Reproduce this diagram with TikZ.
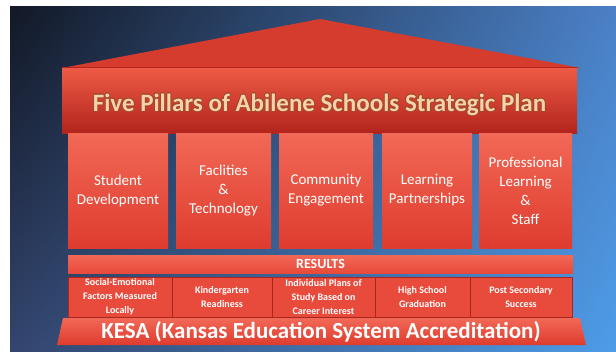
\documentclass[tikz,border=0pt]{standalone}
\usepackage{fontspec}
\setmainfont{Carlito}
\usepackage{contour}
\contourlength{0.7pt}
\contournumber{16}
\usetikzlibrary{shadings}

\definecolor{bgUL}{HTML}{121826}
\definecolor{bgUR}{HTML}{4B80C6}
\definecolor{bgLL}{HTML}{33456E}
\definecolor{bgLR}{HTML}{4E9CE8}
\definecolor{roofedge}{HTML}{D63C2E}
\definecolor{roofmid}{HTML}{F47A63}
\definecolor{bandtop}{HTML}{EE5A45}
\definecolor{bandbot}{HTML}{B2241C}
\definecolor{pillartop}{HTML}{F26856}
\definecolor{pillarbot}{HTML}{DE3C2E}
\definecolor{boxfill}{HTML}{E84A3B}
\definecolor{boxedge}{HTML}{A8261E}
\definecolor{titlefill}{HTML}{F3D2AC}
\definecolor{titleedge}{HTML}{A24A28}

\tikzset{
  pillar/.style={top color=pillartop,bottom color=pillarbot,minimum height=115bp,inner sep=0pt,align=center,text=white,font=\fontsize{15bp}{19bp}\selectfont},
  result/.style={fill=boxfill,draw=boxedge,line width=0.8bp,minimum height=40bp,inner sep=0pt,align=center,text=white,font=\bfseries\fontsize{10bp}{14bp}\selectfont},
}

\begin{document}
\begin{tikzpicture}
\useasboundingbox (0bp,0bp) rectangle (616bp,-352bp);
\fill[white] (0bp,0bp) rectangle (616bp,-352bp);
\shade[upper left=bgUL,upper right=bgUR,lower left=bgLL,lower right=bgLR] (10bp,-6bp) rectangle (616bp,-352bp);

% roof and entablature
\shade[left color=roofedge,middle color=roofmid,right color=roofedge] (62bp,-68bp) -- (320bp,-19bp) -- (581bp,-68bp) -- cycle;
\node (band) at (319.5bp,-100.5bp)[top color=bandtop,bottom color=bandbot,minimum width=515bp,minimum height=65bp,inner sep=0pt] {};
\draw [line width=1.2bp,bandbot] (band.north west) to (band.north east);
\node (title) at (319.5bp,-105bp)[text=titlefill,font=\bfseries\fontsize{25bp}{28bp}\selectfont] {\contour{titleedge}{Five Pillars of Abilene Schools Strategic Plan}};

% pillars
\node (P1) at (118bp,-190.5bp)[pillar,minimum width=100bp] {Student\\Development};
\node (P2) at (223.5bp,-190.5bp)[pillar,minimum width=95bp] {Faclities\\\&\\Technology};
\node (P3) at (326bp,-190.5bp)[pillar,minimum width=94bp] {Community\\Engagement};
\node (P4) at (427bp,-190.5bp)[pillar,minimum width=90bp] {Learning\\Partnerships};
\node (P5) at (525.5bp,-190.5bp)[pillar,minimum width=93bp] {Professional\\Learning\\\&\\Staff};

% results
\node (results) at (320.5bp,-264bp)[top color=pillartop,bottom color=boxfill,minimum width=505bp,minimum height=18bp,inner sep=0pt,text=white,font=\bfseries\fontsize{14bp}{16bp}\selectfont] {RESULTS};
\node (R1) at (120bp,-297bp)[result,minimum width=104bp] {Social-Emotional\\Factors Measured\\Locally};
\node (R2) at (222bp,-297bp)[result,minimum width=100bp] {Kindergarten\\Readiness};
\node (R3) at (323.5bp,-297bp)[result,minimum width=103bp] {Individual Plans of\\Study Based on\\Career Interest};
\node (R4) at (422.5bp,-297bp)[result,minimum width=95bp] {High School\\Graduation};
\node (R5) at (521bp,-297bp)[result,minimum width=102bp] {Post Secondary\\Success};

% base
\shade[top color=pillartop,bottom color=pillarbot] (63bp,-318bp) -- (580bp,-318bp) -- (586bp,-345bp) -- (57bp,-345bp) -- cycle;
\node (kesa) at (321bp,-332bp)[text=white,font=\bfseries\fontsize{23bp}{25bp}\selectfont] {KESA (Kansas Education System Accreditation)};
\end{tikzpicture}
\end{document}
